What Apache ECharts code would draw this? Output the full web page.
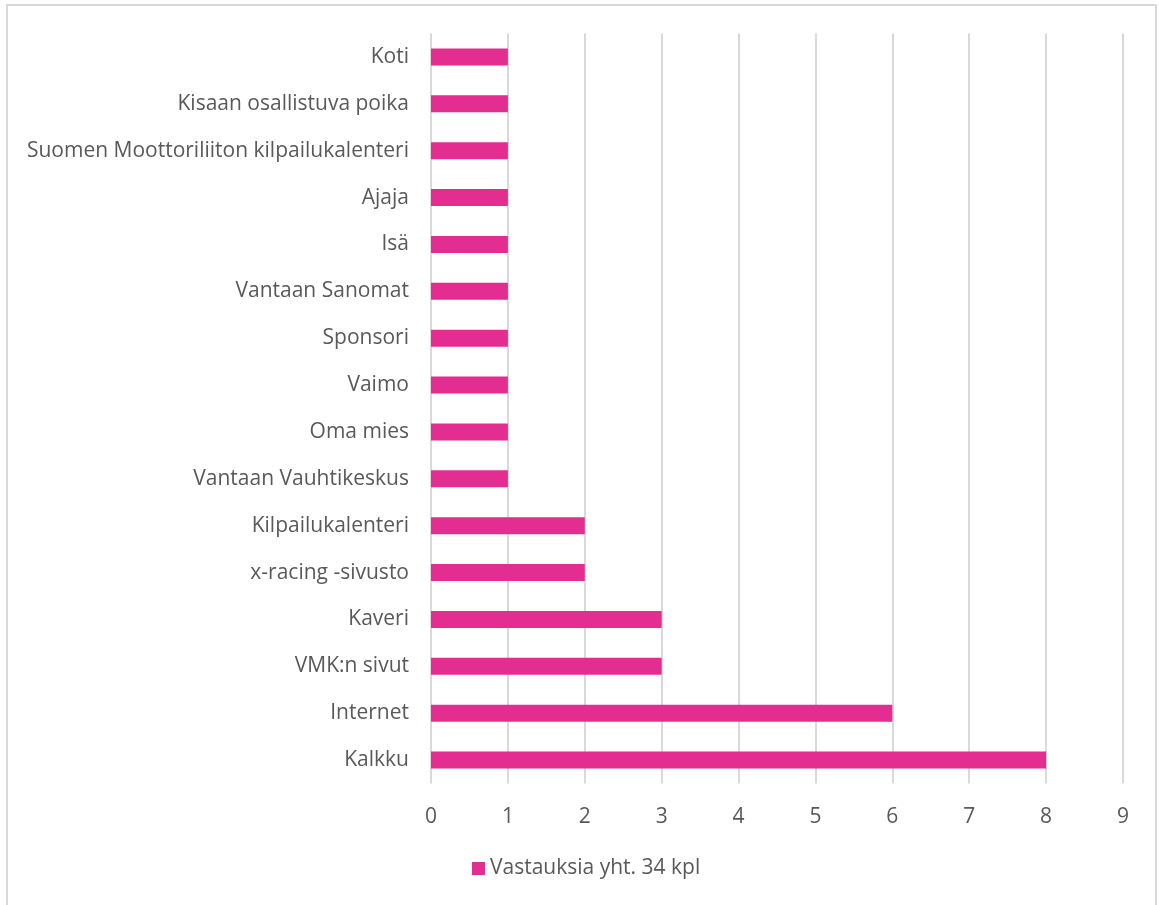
<!DOCTYPE html>
<html>
<head>
<meta charset="utf-8">
<script src="https://cdn.jsdelivr.net/npm/echarts@6/dist/echarts.min.js"></script>
<style>
  html, body { margin: 0; padding: 0; background: #fff; }
  #frame { position: absolute; left: 6px; top: 4px; width: 1151px; height: 905px; border: 2px solid #d9d9d9; box-sizing: border-box; border-bottom: none; }
  #chart { position: absolute; left: 0; top: 0; width: 1159px; height: 905px; }
</style>
</head>
<body>
<div id="frame"></div>
<div id="chart"></div>
<script>
// Where respondents heard about the event (bottom to top)
const categories = [
  'Kalkku', 'Internet', 'VMK:n sivut', 'Kaveri', 'x-racing -sivusto',
  'Kilpailukalenteri', 'Vantaan Vauhtikeskus', 'Oma mies', 'Vaimo',
  'Sponsori', 'Vantaan Sanomat', 'Isä', 'Ajaja',
  'Suomen Moottoriliiton kilpailukalenteri', 'Kisaan osallistuva poika', 'Koti'
];
const values = [8, 6, 3, 3, 2, 2, 1, 1, 1, 1, 1, 1, 1, 1, 1, 1];
const seriesName = 'Vastauksia yht. 34 kpl';
const xTicks = [0, 1, 2, 3, 4, 5, 6, 7, 8, 9];

const FONT = '"Open Sans", sans-serif';
const TEXT = '#595959';
const PINK = '#E32D91';

const chart = echarts.init(document.getElementById('chart'), null, { renderer: 'canvas' });
chart.setOption({
  animation: false,
  grid: { left: 431, right: 36, top: 33.5, bottom: 121.5, containLabel: false },
  legend: {
    top: 853, left: 467,
    itemWidth: 13, itemHeight: 13, itemGap: 6,
    icon: 'rect',
    textStyle: { color: TEXT, fontSize: 21, fontFamily: FONT },
    data: [seriesName]
  },
  xAxis: {
    type: 'value', min: xTicks[0], max: xTicks[xTicks.length - 1], interval: 1,
    axisLine: { show: false }, axisTick: { show: false },
    splitLine: { show: true, lineStyle: { color: '#d9d9d9', width: 2 } },
    axisLabel: { color: TEXT, fontSize: 21, fontFamily: FONT, margin: 23 }
  },
  yAxis: {
    type: 'category', data: categories,
    axisLine: { show: false }, axisTick: { show: false },
    axisLabel: { color: TEXT, fontSize: 21, fontFamily: FONT, margin: 22 }
  },
  series: [{
    name: seriesName, type: 'bar', data: values, barWidth: 17,
    itemStyle: { color: PINK }
  }]
});
</script>
</body>
</html>
